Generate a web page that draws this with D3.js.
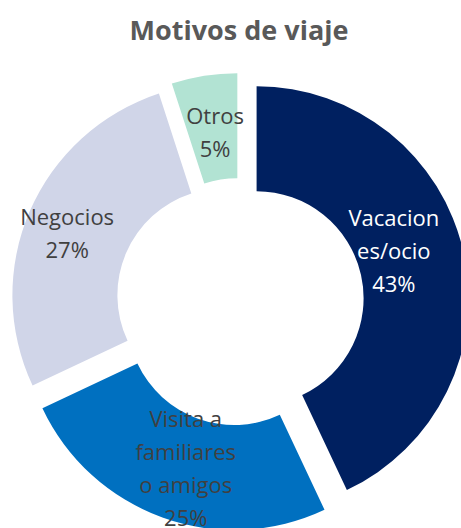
<!DOCTYPE html>
<html>
<head>
<meta charset="utf-8">
<script src="https://cdn.jsdelivr.net/npm/d3@7"></script>
<style>
  body { margin: 0; background: #fff; }
  svg { display: block; }
</style>
</head>
<body>
<div id="chart"></div>
<script>
// data
var categories = ["Vacaciones/ocio", "Visita a familiares o amigos", "Negocios", "Otros"];
var values = [43, 25, 27, 5];
var labelLines = [["Vacacion", "es/ocio"], ["Visita a", "familiares", "o amigos"], ["Negocios"], ["Otros"]];
var colors = ["#002060", "#0070c0", "#d0d5e8", "#b2e3d3"];
var labelColors = ["#ffffff", "#404040", "#404040", "#404040"];

var width = 461, height = 528;
var cx = 240, cy = 302;
var outerR = 212, innerR = 107;
var explode = 17;
var labelR = 155;
// small hand nudges so labels sit where the original put them
var nudge = [[-14, -13], [4, 5], [-15, 0], [2, 0]];

var svg = d3.select("#chart").append("svg")
    .attr("width", width)
    .attr("height", height);

svg.append("text")
    .attr("x", 239)
    .attr("y", 40)
    .attr("text-anchor", "middle")
    .attr("fill", "#595959")
    .style("font-family", "'Open Sans', sans-serif")
    .style("font-weight", "bold")
    .style("font-size", "27px")
    .text("Motivos de viaje");

var pie = d3.pie().sort(null).value(d => d);
var arcs = pie(values);

var arc = d3.arc().innerRadius(innerR).outerRadius(outerR);

var slice = svg.append("g")
    .attr("transform", "translate(" + cx + "," + cy + ")")
    .selectAll("g")
    .data(arcs)
    .enter().append("g")
    .attr("transform", d => {
        var mid = (d.startAngle + d.endAngle) / 2;
        return "translate(" + (explode * Math.sin(mid)) + "," + (-explode * Math.cos(mid)) + ")";
    });

slice.append("path")
    .attr("d", arc)
    .attr("fill", (d, i) => colors[i]);

// labels at the middle of each ring segment
var lineH = 33;
slice.each(function (d, i) {
    var mid = (d.startAngle + d.endAngle) / 2;
    var lx = labelR * Math.sin(mid) + nudge[i][0];
    var ly = -labelR * Math.cos(mid) + nudge[i][1];
    var lines = labelLines[i].concat([values[i] + "%"]);
    var t = d3.select(this).append("text")
        .attr("text-anchor", "middle")
        .attr("fill", labelColors[i])
        .style("font-family", "'Open Sans', sans-serif")
        .style("font-size", "22px");
    lines.forEach((ln, k) => {
        t.append("tspan")
            .attr("x", lx)
            .attr("y", ly + (k - (lines.length - 1) / 2) * lineH + 8)
            .text(ln);
    });
});
</script>
</body>
</html>
